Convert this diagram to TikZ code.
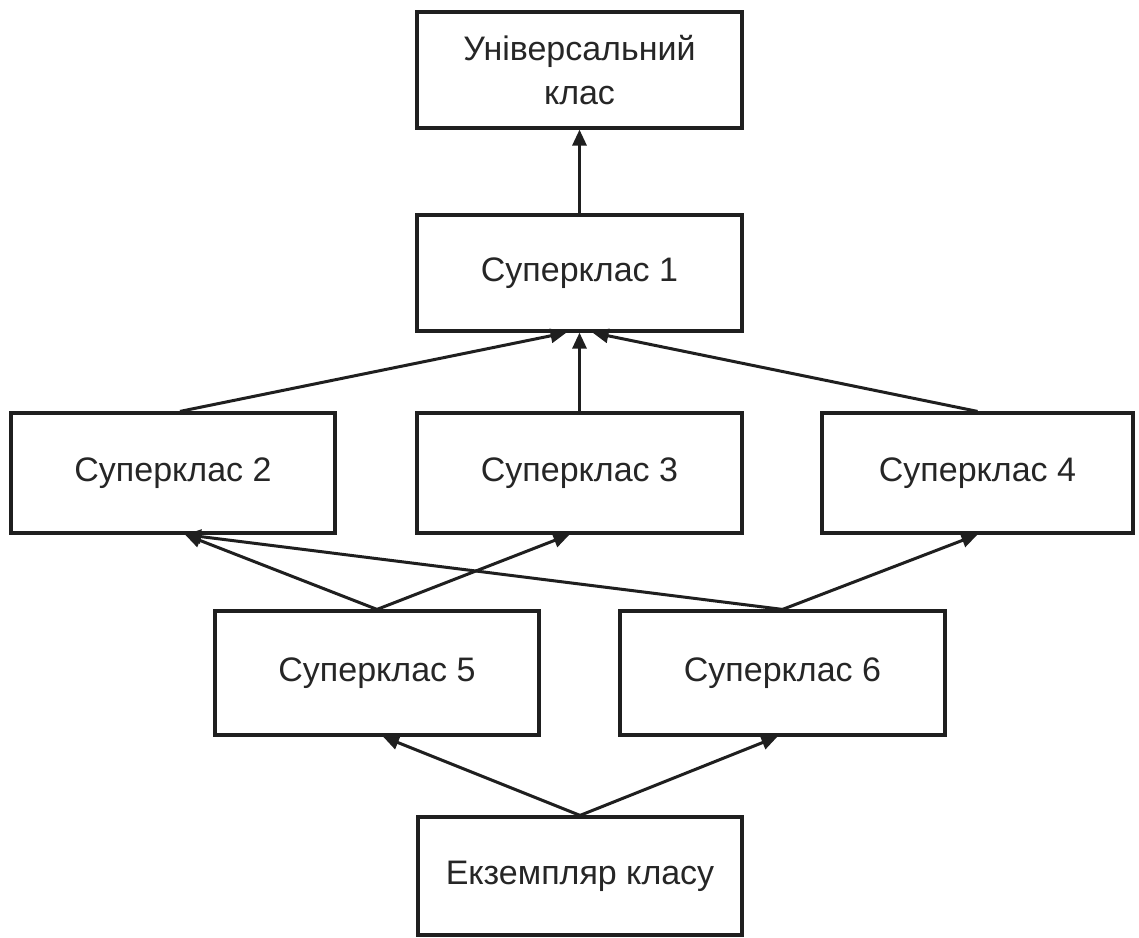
\documentclass[tikz,border=0pt]{standalone}
\usepackage{fontspec}
\setmainfont{Liberation Sans}
\usetikzlibrary{arrows.meta,calc}
\begin{document}
\begin{tikzpicture}[x=1pt,y=-1pt,
  box/.style={draw=black!88, line width=3.2pt, rectangle, inner sep=0pt, align=center,
    font=\fontsize{34}{44}\selectfont, text=black!85},
  conn/.style={line width=3pt, draw=black!88, -{Triangle[length=16pt,width=14pt]}}]
\useasboundingbox[fill=white] (0,0) rectangle (1139,937);
\node[box, minimum width=325pt, minimum height=116pt] (u)  at (579.5,70)  {Універсальний\\клас};
\node[box, minimum width=325pt, minimum height=116pt] (s1) at (579.5,273) {Суперклас 1};
\node[box, minimum width=324pt, minimum height=120pt] (s2) at (173,473)   {Суперклас 2};
\node[box, minimum width=325pt, minimum height=120pt] (s3) at (579.5,473) {Суперклас 3};
\node[box, minimum width=311pt, minimum height=120pt] (s4) at (977.5,473) {Суперклас 4};
\node[box, minimum width=324pt, minimum height=124pt] (s5) at (377,673)   {Суперклас 5};
\node[box, minimum width=325pt, minimum height=124pt] (s6) at (782.5,673) {Суперклас 6};
\node[box, minimum width=324pt, minimum height=118pt] (e)  at (580,876)   {Екземпляр класу};
\draw[conn] (s1.north) -- (u.south);
\draw[conn] ($(s2.north)+(7,0)$) -- ($(s1.south)+(-13,0)$);
\draw[conn] (s3.north) -- (s1.south);
\draw[conn] (s4.north) -- ($(s1.south)+(13,0)$);
\draw[conn] (s5.north) -- ($(s2.south)+(12,0)$);
\draw[conn] (s5.north) -- ($(s3.south)+(-10,0)$);
\draw[conn] (s6.north) -- ($(s2.south)+(12,0)$);
\draw[conn] (s6.north) -- (s4.south);
\draw[conn] (e.north) -- ($(s5.south)+(6,0)$);
\draw[conn] (e.north) -- ($(s6.south)+(-5,0)$);
\end{tikzpicture}
\end{document}
